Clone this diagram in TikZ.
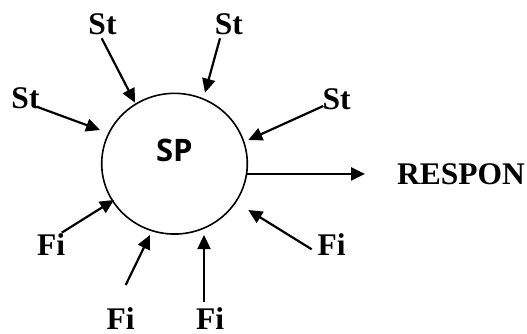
\documentclass[tikz,border=0pt]{standalone}
\usepackage{fontspec}
\setmainfont{Liberation Serif}
\newfontfamily\spfont{Open Sans}
\usetikzlibrary{arrows.meta,shapes.geometric}

\tikzset{
  lbl/.style={font=\fontsize{31.5}{31.5}\selectfont\bfseries, inner sep=0pt, anchor=base},
  cell/.style={ellipse, draw, line width=1.6pt, inner sep=0pt,
               minimum width=145.6pt, minimum height=140.7pt},
  arr/.style={line width=2.2pt, -{Triangle[length=14pt,width=13pt]}}
}

\begin{document}
\begin{tikzpicture}[x=1pt,y=-1pt]
  \useasboundingbox (0,0) rectangle (527,334);

  % central cell
  \node[cell] (sp) at (174.5,163.7) {};
  \node[font=\spfont\fontsize{31}{31}\selectfont\bfseries, inner sep=0pt, anchor=base] (splabel) at (174.3,161) {SP};

  % stimulus and field labels
  \node[lbl] (st1) at (102.5,35) {St};
  \node[lbl] (st2) at (228.8,35) {St};
  \node[lbl] (st3) at (25.5,109) {St};
  \node[lbl] (st4) at (336.7,110) {St};
  \node[lbl] (fi1) at (51,255) {Fi};
  \node[lbl] (fi2) at (331.7,255) {Fi};
  \node[lbl] (fi3) at (120.5,329.5) {Fi};
  \node[lbl] (fi4) at (210,329.5) {Fi};
  \node[lbl] (resp) at (461,184) {RESPON};

  % arrow tails
  \coordinate (st1-a) at (101.7,38.3);
  \coordinate (st2-a) at (220,38.3);
  \coordinate (st3-a) at (36.7,106.7);
  \coordinate (st4-a) at (323.3,106);
  \coordinate (fi1-a) at (61.7,232.7);
  \coordinate (fi2-a) at (311.7,249.3);
  \coordinate (fi3-a) at (125.7,285);
  \coordinate (fi4-a) at (204,302);

  % arrow tips at the cell
  \coordinate (st1-b) at (135,102.7);
  \coordinate (st2-b) at (205,92.7);
  \coordinate (st3-b) at (100,130);
  \coordinate (st4-b) at (248.3,140);
  \coordinate (fi1-b) at (114,200);
  \coordinate (fi2-b) at (248.3,210);
  \coordinate (fi3-b) at (150,235);
  \coordinate (fi4-b) at (204,235);
  \coordinate (resp-b) at (365,173.3);

  % inputs
  \foreach \n in {st1,st2,st3,st4,fi1,fi2,fi3,fi4}
    \draw[arr] (\n-a) -- (\n-b);

  % output
  \draw[arr] (sp.-8) -- (sp.-8 -| resp-b);
\end{tikzpicture}
\end{document}
